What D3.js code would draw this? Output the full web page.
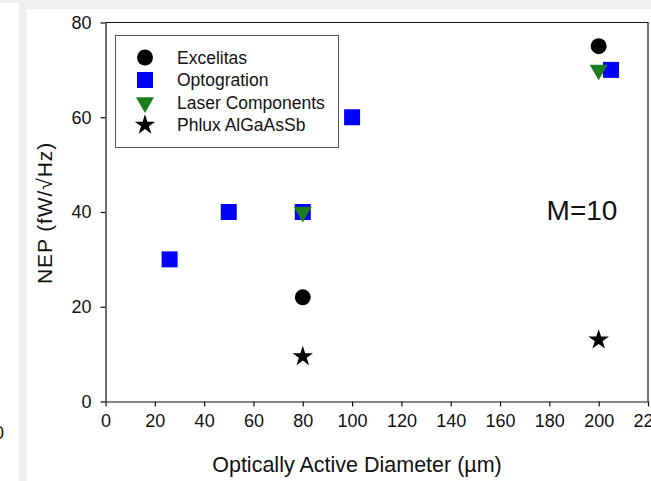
<!DOCTYPE html>
<html>
<head>
<meta charset="utf-8">
<script src="https://cdnjs.cloudflare.com/ajax/libs/d3/7.8.5/d3.min.js"></script>
<style>
    body { margin: 0; background: #efefef; }
    svg { display: block; }
    text { font-family: Arial, "Liberation Sans", sans-serif; fill: #111; }
    .axis path, .axis line { stroke: #111; stroke-width: 1.2; }
    .axis text { font-size: 18px; }
</style>
</head>
<body>
<svg id="chart" width="651" height="481"></svg>
<script>
// data
let seriesNames = ["Excelitas", "Optogration", "Laser Components", "Phlux AlGaAsSb"];

let excelitasX = [80, 200];
let excelitasY = [22, 75];

let optograX = [26, 50, 80, 100, 205];
let optograY = [30, 40, 40, 60, 70];

let laserX = [80, 200];
let laserY = [40, 70];

let phluxX = [80, 200];
let phluxY = [9.5, 13];

let xTicks = [0, 20, 40, 60, 80, 100, 120, 140, 160, 180, 200, 220];
let yTicks = [0, 20, 40, 60, 80];

let svg = d3.select("#chart");

// page panels behind the figure
svg.append("rect").attr("x", 0).attr("y", 0).attr("width", 651).attr("height", 481).attr("fill", "#efefef");
svg.append("rect").attr("x", 0).attr("y", 3).attr("width", 19).attr("height", 478).attr("fill", "#fff");
svg.append("rect").attr("x", 27).attr("y", 9).attr("width", 624).attr("height", 472).attr("fill", "#fff");
svg.append("text").attr("x", 4).attr("y", 439).attr("text-anchor", "end")
    .style("font-size", "18px").text("0");

let x = d3.scaleLinear().domain([0, 220]).range([105.5, 648]);
let y = d3.scaleLinear().domain([0, 80]).range([401.5, 22.5]);

// frame (top and right)
svg.append("path")
    .attr("d", `M ${x(0)} ${y(80)} H ${x(220)} V ${y(0)}`)
    .attr("fill", "none").attr("stroke", "#111").attr("stroke-width", 1.2);

svg.append("g").attr("class", "axis")
    .attr("transform", "translate(0," + y(0) + ")")
    .call(d3.axisBottom(x).tickValues(xTicks).tickSize(5).tickSizeOuter(0).tickPadding(8));

svg.append("g").attr("class", "axis")
    .attr("transform", "translate(" + x(0) + ",0)")
    .call(d3.axisLeft(y).tickValues(yTicks).tickSize(5).tickSizeOuter(0).tickPadding(9));

svg.selectAll(".axis .domain").attr("stroke", "#111");

// axis titles
svg.append("text")
    .attr("x", 357).attr("y", 472)
    .attr("text-anchor", "middle")
    .style("font-size", "21.5px")
    .text("Optically Active Diameter (\u00b5m)");

svg.append("text")
    .attr("transform", "translate(52,213) rotate(-90)")
    .attr("text-anchor", "middle")
    .style("font-size", "21px")
    .style("letter-spacing", "0.9px")
    .text("NEP (fW/\u221AHz)");

svg.append("text")
    .attr("x", 582).attr("y", 220)
    .attr("text-anchor", "middle")
    .style("font-size", "28px")
    .text("M=10");

// one style per series
let styles = [
    { sym: d3.symbolCircle, size: 200, fill: "#000", rot: 0 },
    { sym: d3.symbolSquare, size: 256, fill: "#0000ff", rot: 0 },
    { sym: d3.symbolTriangle, size: 140, fill: "#1b7d1b", rot: 180 },
    { sym: d3.symbolStar, size: 130, fill: "#000", rot: 0 }
];

let series = [
    d3.zip(excelitasX, excelitasY),
    d3.zip(optograX, optograY),
    d3.zip(laserX, laserY),
    d3.zip(phluxX, phluxY)
];

series.forEach((pts, i) => {
    let st = styles[i];
    svg.append("g").selectAll("path")
        .data(pts)
        .enter().append("path")
        .attr("d", d3.symbol().type(st.sym).size(st.size))
        .attr("fill", st.fill)
        .attr("transform", (d) => {
            return "translate(" + x(d[0]) + "," + y(d[1]) + ") rotate(" + st.rot + ")";
        });
});

// legend
let legend = svg.append("g");
legend.append("rect")
    .attr("x", 115.5).attr("y", 35.5).attr("width", 223).attr("height", 112)
    .attr("fill", "#fff").attr("stroke", "#555").attr("stroke-width", 1);

let rows = legend.selectAll("g.row")
    .data(seriesNames)
    .enter().append("g")
    .attr("class", "row")
    .attr("transform", (d, i) => "translate(0," + (57.5 + i * 22.5) + ")");

rows.append("path")
    .attr("d", (d, i) => d3.symbol().type(styles[i].sym).size(styles[i].size)())
    .attr("fill", (d, i) => styles[i].fill)
    .attr("transform", (d, i) => "translate(145,0) rotate(" + styles[i].rot + ")");

rows.append("text")
    .attr("x", 177).attr("dy", "0.36em")
    .style("font-size", "17.5px")
    .text((d) => d);
</script>
</body>
</html>
